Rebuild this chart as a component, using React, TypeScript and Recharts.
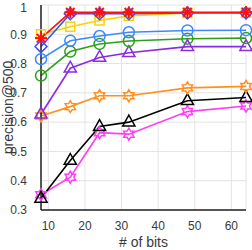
import React from "react";
import { LineChart, Line, XAxis, YAxis, CartesianGrid, Label } from "recharts";

const bits = [8, 16, 24, 32, 48, 64];
const redStar = [0.887, 0.975, 0.975, 0.975, 0.975, 0.975];
const blueDiamond = [0.858, 0.97, 0.97, 0.97, 0.973, 0.973];
const yellowSquare = [0.9, 0.926, 0.947, 0.963, 0.973, 0.974];
const skyCircle = [0.815, 0.878, 0.894, 0.907, 0.913, 0.914];
const greenCircle = [0.759, 0.841, 0.867, 0.877, 0.885, 0.887];
const purpleTri = [0.627, 0.784, 0.821, 0.837, 0.858, 0.858];
const orangeHex = [0.621, 0.653, 0.69, 0.69, 0.717, 0.722];
const blackTri = [0.34, 0.469, 0.585, 0.6, 0.673, 0.684];
const magentaHex = [0.352, 0.412, 0.564, 0.559, 0.636, 0.655];

const xTicks = [10, 20, 30, 40, 50, 60];
const yTicks = [0.3, 0.4, 0.5, 0.6, 0.7, 0.8, 0.9, 1];

const data = bits.map((b, i) => ({
  bits: b,
  red: redStar[i],
  blue: blueDiamond[i],
  yellow: yellowSquare[i],
  sky: skyCircle[i],
  green: greenCircle[i],
  purple: purpleTri[i],
  orange: orangeHex[i],
  black: blackTri[i],
  magenta: magentaHex[i],
}));

type Shape = "star" | "diamond" | "square" | "circle" | "triangle" | "hexagram";

function marker(shape: Shape, color: string) {
  return (p: any) => {
    const { cx, cy, index } = p;
    const k = `${shape}-${color}-${index}`;
    if (cx == null || cy == null) return <g key={k} />;
    const common = { fill: "none", stroke: color, strokeWidth: 1.5 };
    if (shape === "circle") return <circle key={k} cx={cx} cy={cy} r={5.5} {...common} />;
    if (shape === "square") return <rect key={k} x={cx - 4.5} y={cy - 4.5} width={9} height={9} {...common} />;
    if (shape === "diamond") {
      const r = 6;
      return <polygon key={k} points={`${cx},${cy - r} ${cx + r},${cy} ${cx},${cy + r} ${cx - r},${cy}`} {...common} />;
    }
    if (shape === "triangle") {
      const r = 7;
      return (
        <polygon
          key={k}
          points={`${cx},${cy - r} ${cx + r * 0.87},${cy + r * 0.55} ${cx - r * 0.87},${cy + r * 0.55}`}
          {...common}
        />
      );
    }
    if (shape === "hexagram") {
      const pts: string[] = [];
      for (let i = 0; i < 12; i++) {
        const a = (Math.PI / 6) * i - Math.PI / 2;
        const r = i % 2 === 0 ? 6 : 3.5;
        pts.push(`${cx + r * Math.cos(a)},${cy + r * Math.sin(a)}`);
      }
      return <polygon key={k} points={pts.join(" ")} {...common} />;
    }
    // asterisk star
    const lines = [];
    for (let i = 0; i < 4; i++) {
      const a = (Math.PI / 4) * i;
      const r = 6;
      lines.push(
        <line
          key={i}
          x1={cx - r * Math.cos(a)}
          y1={cy - r * Math.sin(a)}
          x2={cx + r * Math.cos(a)}
          y2={cy + r * Math.sin(a)}
          stroke={color}
          strokeWidth={2}
        />
      );
    }
    return <g key={k}>{lines}</g>;
  };
}

const series: { key: string; color: string; shape: Shape }[] = [
  { key: "magenta", color: "#ff3df5", shape: "hexagram" },
  { key: "black", color: "#000000", shape: "triangle" },
  { key: "orange", color: "#ff8f1f", shape: "hexagram" },
  { key: "purple", color: "#8a2be2", shape: "triangle" },
  { key: "green", color: "#2ca01c", shape: "circle" },
  { key: "sky", color: "#3d88ff", shape: "circle" },
  { key: "yellow", color: "#f5d400", shape: "square" },
  { key: "blue", color: "#3b4dff", shape: "diamond" },
  { key: "red", color: "#ff1010", shape: "star" },
];

const font = "'Liberation Sans', Arial, sans-serif";
const textStyle = { fill: "#3a3a3a", fontSize: 14, fontFamily: font };
const tickStyle = { fill: "#3a3a3a", fontSize: 12, fontFamily: font };

export default function App() {
  return (
    <div style={{ position: "absolute", left: 0, top: 0, background: "#fff" }}>
      <LineChart width={252} height={250} data={data} margin={{ top: 5, right: 6, left: 0, bottom: 0 }}>
        <CartesianGrid stroke="#e3e3e3" strokeWidth={1} />
        <XAxis
          dataKey="bits"
          type="number"
          domain={[8, 64]}
          ticks={xTicks}
          height={40}
          tickLine={false}
          axisLine={{ stroke: "#222", strokeWidth: 1.5 }}
          tick={tickStyle}
          tickMargin={5}
        >
          <Label value="# of bits" position="insideBottom" offset={3} style={textStyle} />
        </XAxis>
        <YAxis
          type="number"
          domain={[0.3, 1]}
          ticks={yTicks}
          width={41}
          tickLine={false}
          axisLine={{ stroke: "#222", strokeWidth: 1.5 }}
          tick={tickStyle}
          tickMargin={8}
        >
          <Label
            content={(props: any) => {
              const vb = props.viewBox || {};
              const cy = (vb.y ?? 5) + (vb.height ?? 205) / 2;
              const x = 13;
              return (
                <text
                  x={x}
                  y={cy}
                  transform={`rotate(-90 ${x} ${cy})`}
                  textAnchor="middle"
                  style={textStyle}
                >
                  precision@500
                </text>
              );
            }}
          />
        </YAxis>
        {series.map((s) => (
          <Line
            key={s.key}
            dataKey={s.key}
            stroke={s.color}
            strokeWidth={1.6}
            dot={marker(s.shape, s.color)}
            activeDot={false}
            isAnimationActive={false}
          />
        ))}
      </LineChart>
    </div>
  );
}
